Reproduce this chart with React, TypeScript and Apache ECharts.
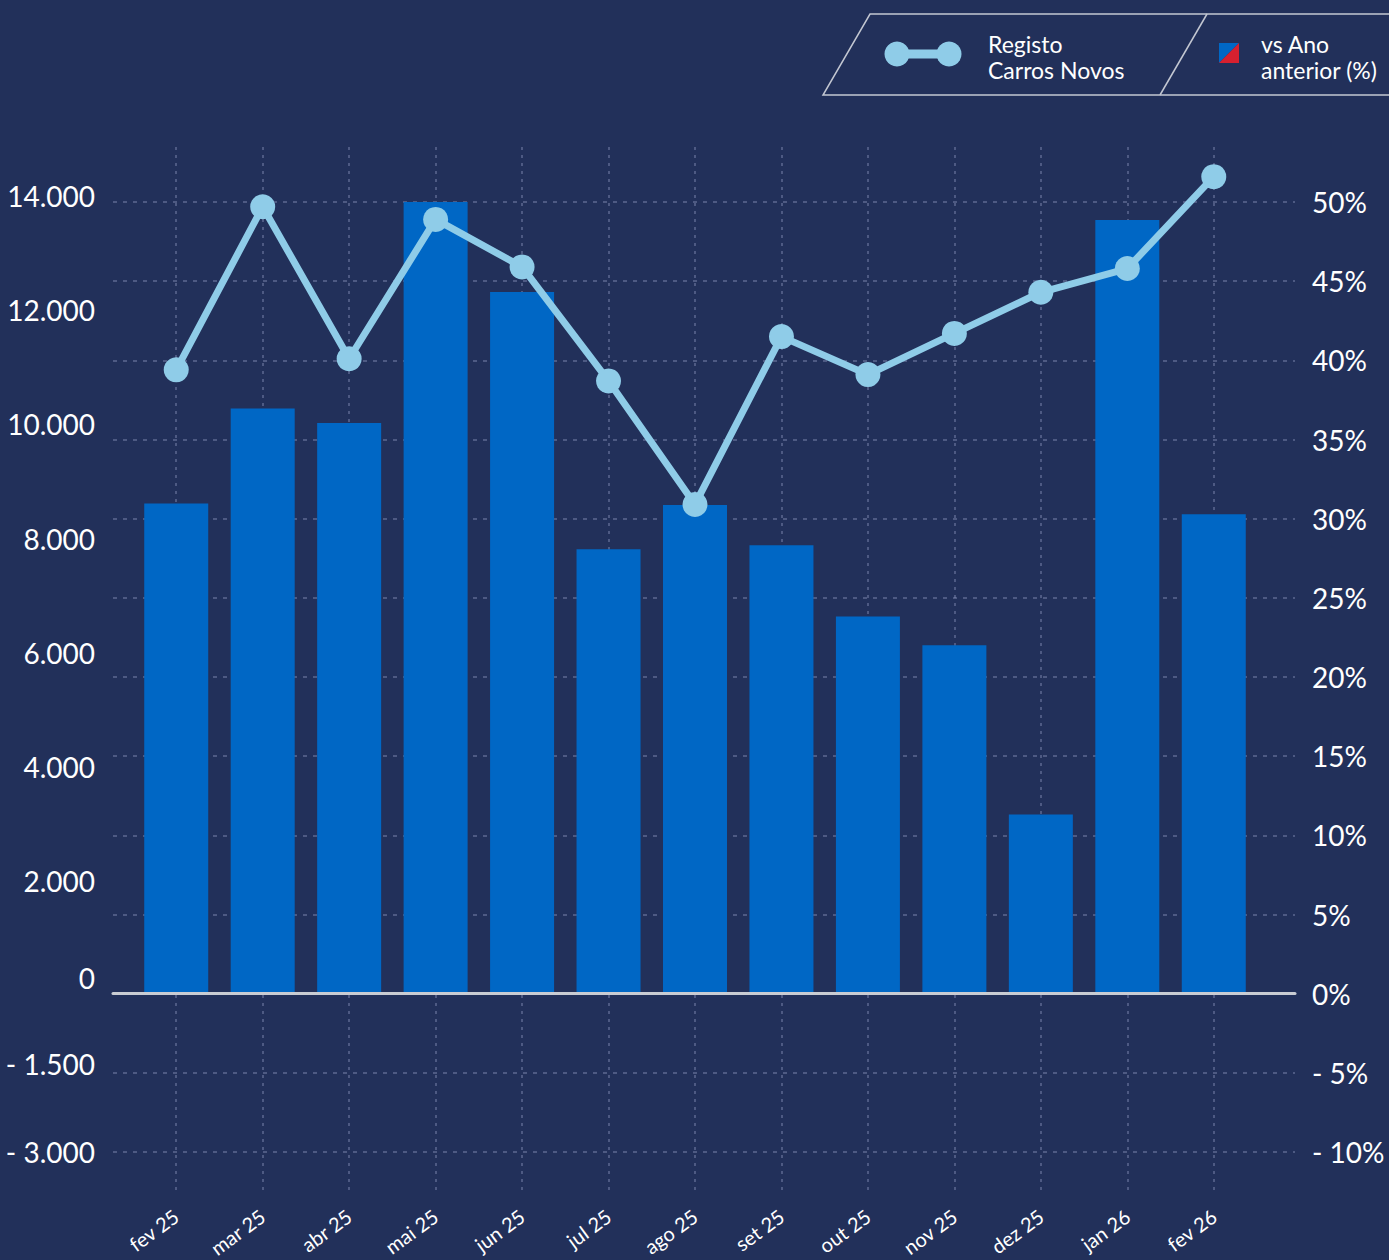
import React, { useEffect, useRef } from "react";
import * as echarts from "echarts";

const categories = ["fev 25", "mar 25", "abr 25", "mai 25", "jun 25", "jul 25", "ago 25", "set 25", "out 25", "nov 25", "dez 25", "jan 26", "fev 26"];
const barValues = [8670, 10350, 10090, 14000, 12410, 7860, 8640, 7930, 6670, 6160, 3170, 13680, 8480];
const lineValues = [39.4, 49.7, 40.1, 48.9, 45.9, 38.7, 30.9, 41.5, 39.1, 41.7, 44.3, 45.8, 51.6];

const leftTickValues = [-2800, -1400, 0, 2000, 4000, 6000, 8000, 10000, 12000, 14000];
const leftTickLabels = ["- 3.000", "- 1.500", "0", "2.000", "4.000", "6.000", "8.000", "10.000", "12.000", "14.000"];
const rightMin = -10;
const rightMax = 50;
const rightStep = 5;

const legendLineLines = ["Registo", "Carros Novos"];
const legendBarLines = ["vs Ano", "anterior (%)"];

const BG = "#22305a";
const BAR = "#0067c5";
const LINE = "#8fcce8";
const GRID = "rgba(140,152,190,0.55)";
const FONT = "Lato";

// per-label vertical shift (px, up) for left axis labels, styling only
const leftShift: Record<string, number> = { "- 3.000": 0, "- 1.500": 9, "0": 16, "2.000": 0, "4.000": 0, "6.000": 1, "8.000": 2, "10.000": 4, "12.000": 5, "14.000": 6 };

export default function App() {
  const ref = useRef<HTMLDivElement>(null);
  useEffect(() => {
    if (!ref.current) return;
    const chart = echarts.init(ref.current, null, { renderer: "svg" });
    const rich: Record<string, any> = {};
    leftTickLabels.forEach((l, i) => {
      const s = leftShift[l] || 0;
      rich["l" + i] = { fontFamily: FONT, fontSize: 28, color: "#fff", padding: [0, 0, s * 2, 0] };
    });
    const legendText = (lines: string[], x: number) =>
      lines.map((t, i) => ({
        type: "text", x, y: 44 + i * 26,
        style: { text: t, fill: "#fff", fontSize: 23, fontFamily: FONT, verticalAlign: "middle", align: "left" },
      }));
    const option: any = {
      animation: false,
      backgroundColor: BG,
      textStyle: { fontFamily: FONT },
      grid: [
        { left: 133, right: 132, top: 202, bottom: 108 },
        { left: 176, right: 175, top: 147, bottom: 67 },
        { left: 113, right: 94, top: 202, bottom: 108 },
      ],
      xAxis: [
        { type: "category", gridIndex: 0, data: categories, axisLine: { show: false }, axisTick: { show: false }, axisLabel: { show: false }, splitLine: { show: false } },
        {
          type: "category", gridIndex: 1, data: categories, boundaryGap: false,
          axisLine: { show: false }, axisTick: { show: false },
          axisLabel: { interval: 0, rotate: 36, margin: 22, color: "#fff", fontSize: 20, fontFamily: FONT },
          splitLine: { show: true, interval: 0, lineStyle: { color: GRID, width: 1.5, type: [3, 5] } },
        },
        {
          type: "value", gridIndex: 2, min: 0, max: 1, axisLabel: { show: false }, axisTick: { show: false }, splitLine: { show: false },
          axisLine: { show: true, onZero: true, lineStyle: { color: "#c9ccd3", width: 3 } }, z: 10,
        },
      ],
      yAxis: [
        {
          type: "value", gridIndex: 0, position: "left", min: -2800, max: 14000,
          axisLine: { show: false }, axisTick: { show: false }, splitLine: { show: false },
          axisLabel: {
            customValues: leftTickValues, margin: 38, color: "#fff", fontSize: 28, fontFamily: FONT,
            formatter: (v: number) => {
              const i = leftTickValues.indexOf(v);
              return i >= 0 ? `{l${i}|${leftTickLabels[i]}}` : "";
            },
            rich,
          },
        },
        {
          type: "value", gridIndex: 0, position: "right", min: rightMin, max: rightMax, interval: rightStep,
          axisLine: { show: false }, axisTick: { show: false }, splitLine: { show: false },
          axisLabel: { margin: 55, color: "#fff", fontSize: 28, fontFamily: FONT, formatter: (v: number) => (v < 0 ? `- ${-v}%` : `${v}%`) },
        },
        { type: "value", gridIndex: 1, show: false, min: 0, max: 1 },
        {
          type: "value", gridIndex: 2, min: rightMin, max: rightMax, interval: rightStep,
          axisLine: { show: false }, axisTick: { show: false }, axisLabel: { show: false },
          splitLine: { show: true, lineStyle: { color: GRID, width: 1.5, type: [4, 6] } },
        },
      ],
      series: [
        { type: "bar", name: legendBarLines.join(" "), xAxisIndex: 0, yAxisIndex: 0, data: barValues, barWidth: 64, itemStyle: { color: BAR }, clip: false, z: 2 },
        {
          type: "line", name: legendLineLines.join(" "), xAxisIndex: 0, yAxisIndex: 1, data: lineValues, clip: false, z: 5,
          lineStyle: { color: LINE, width: 7 }, itemStyle: { color: LINE }, symbol: "circle", symbolSize: 25, showSymbol: true,
        },
      ],
      graphic: [
        { type: "polyline", shape: { points: [[1392, 14], [870, 14], [823, 95], [1392, 95]] }, style: { stroke: "#c3c7d2", lineWidth: 1.5, fill: null } },
        { type: "line", shape: { x1: 1160, y1: 95, x2: 1207, y2: 14 }, style: { stroke: "#c3c7d2", lineWidth: 1.5 } },
        { type: "line", shape: { x1: 897, y1: 54, x2: 949, y2: 54 }, style: { stroke: LINE, lineWidth: 9 } },
        { type: "circle", shape: { cx: 897, cy: 54, r: 12.5 }, style: { fill: LINE } },
        { type: "circle", shape: { cx: 949, cy: 54, r: 12.5 }, style: { fill: LINE } },
        ...legendText(legendLineLines, 988),
        { type: "polygon", shape: { points: [[1219, 43], [1239, 43], [1219, 63]] }, style: { fill: BAR } },
        { type: "polygon", shape: { points: [[1239, 43], [1239, 63], [1219, 63]] }, style: { fill: "#d6202f" } },
        ...legendText(legendBarLines, 1261),
      ],
    };
    chart.setOption(option);
    return () => chart.dispose();
  }, []);
  return <div ref={ref} style={{ position: "fixed", left: 0, top: 0, width: 1389, height: 1260 }} />;
}
